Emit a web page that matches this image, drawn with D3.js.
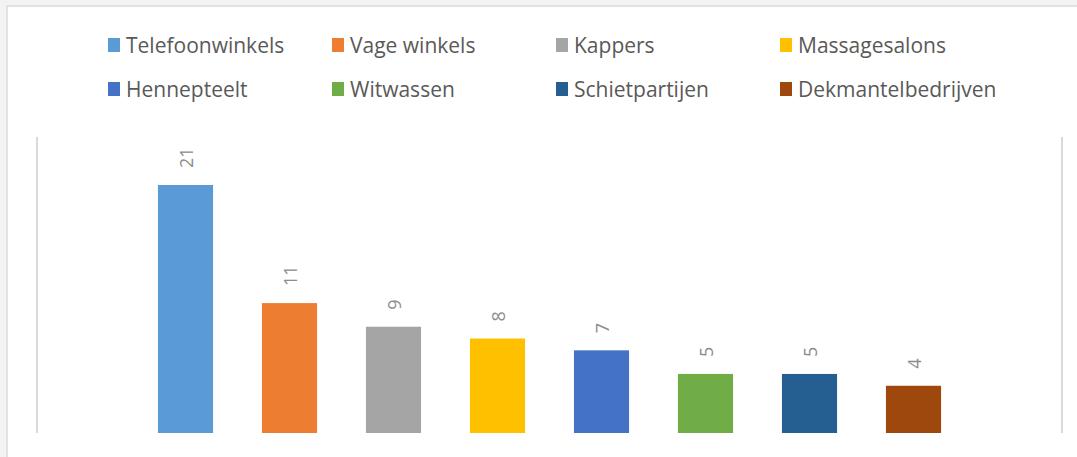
<!DOCTYPE html>
<html>
<head>
<meta charset="utf-8">
<script src="https://cdn.jsdelivr.net/npm/d3@7"></script>
<style>
  html, body { margin: 0; padding: 0; background: #f3f3f3; }
  svg { display: block; }
</style>
</head>
<body>
<div id="chart"></div>
<script>
const categories = ["Telefoonwinkels", "Vage winkels", "Kappers", "Massagesalons",
                    "Hennepteelt", "Witwassen", "Schietpartijen", "Dekmantelbedrijven"];
const values = [21, 11, 9, 8, 7, 5, 5, 4];
const colors = ["#5b9bd5", "#ed7d31", "#a5a5a5", "#ffc000",
                "#4472c4", "#70ad47", "#255e91", "#9e480e"];

const width = 1077, height = 457;
const fontFam = "'Open Sans', 'Noto Sans', sans-serif";

let svg = d3.select("#chart").append("svg")
  .attr("width", width)
  .attr("height", height);

// white panel with thin border
svg.append("rect")
  .attr("x", 7).attr("y", 6)
  .attr("width", width).attr("height", height)
  .attr("fill", "#ffffff")
  .attr("stroke", "#dcdcdc")
  .attr("stroke-width", 1.5);

// side lines of the plot area
[37, 1062].forEach(x => {
  svg.append("line")
    .attr("x1", x).attr("x2", x)
    .attr("y1", 137).attr("y2", 433)
    .attr("stroke", "#d9d9d9")
    .attr("stroke-width", 2);
});

// scales
const xScale = d3.scaleBand()
  .domain(categories)
  .range([133.5, 965.5])
  .paddingInner(0.47)
  .paddingOuter(0.235);

const yScale = d3.scaleLinear()
  .domain([0, 21])
  .range([433, 185]);

let g = svg.append("g");

g.selectAll("rect.bar")
  .data(categories)
  .join("rect")
  .attr("class", "bar")
  .attr("x", d => xScale(d))
  .attr("width", xScale.bandwidth())
  .attr("y", (d, i) => yScale(values[i]))
  .attr("height", (d, i) => yScale(0) - yScale(values[i]))
  .attr("fill", (d, i) => colors[i]);

// data labels, rotated
g.selectAll("text.lbl")
  .data(categories)
  .join("text")
  .attr("class", "lbl")
  .attr("transform", (d, i) => {
    let cx = xScale(d) + xScale.bandwidth() / 2;
    let y = yScale(values[i]) - 17;
    return `translate(${cx + 7},${y}) rotate(-90)`;
  })
  .attr("font-family", fontFam)
  .attr("font-size", 18)
  .attr("fill", "#8c8c8c")
  .text((d, i) => values[i]);

// legend
const legCols = [108, 332, 556, 780];
const legRows = [45, 89];
let legend = svg.append("g");
categories.forEach((c, i) => {
  let lx = legCols[i % 4], ly = legRows[Math.floor(i / 4)];
  legend.append("rect")
    .attr("x", lx).attr("y", ly - 7)
    .attr("width", 12).attr("height", 14)
    .attr("fill", colors[i]);
  legend.append("text")
    .attr("x", lx + 18).attr("y", ly + 7.5)
    .attr("font-family", fontFam)
    .attr("font-size", 21)
    .attr("fill", "#595959")
    .text(c);
});
</script>
</body>
</html>
